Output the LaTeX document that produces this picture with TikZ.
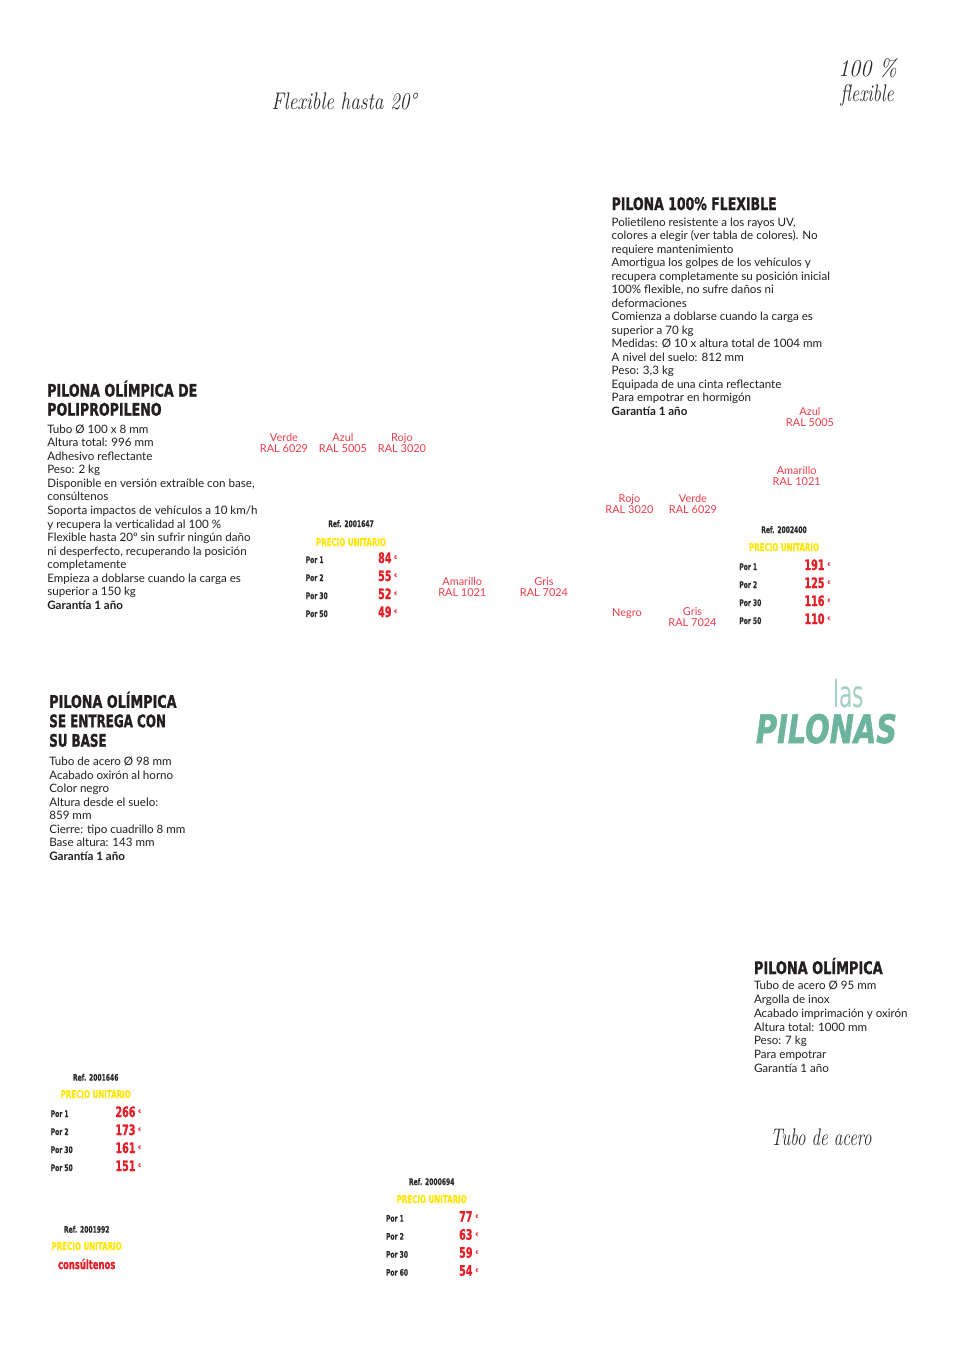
\documentclass[tikz,border=0pt]{standalone}
\usepackage{fontspec}
\usepackage{graphicx}
\newfontfamily\bodyfont{Lato}
\newfontfamily\condfont[FakeBold=1.3]{DejaVu Sans Condensed Bold}
\newfontfamily\cnd[FakeStretch=0.74,FakeBold=0.6]{DejaVu Sans Condensed Bold}
\newfontfamily\cndB[FakeStretch=0.74,FakeBold=1.2]{DejaVu Sans Condensed Bold}
\newfontfamily\eurfont{DejaVu Sans Condensed Bold}
\newfontfamily\condlight{DejaVu Sans Condensed}
\newfontfamily\condobl[FakeBold=1.5]{DejaVu Sans Condensed Bold Oblique}
\newdimen\pxu \pxu=0.75pt
\newcommand\hw[2]{\resizebox{#1\pxu}{\height}{#2}}
\newcommand\eur{\kern3\pxu\raisebox{3.5\pxu}{\eurfont\fontsize{3.6}{4}\selectfont €}}
\definecolor{bodyc}{HTML}{231F20}
\definecolor{labred}{HTML}{EE3E4A}
\definecolor{pricered}{HTML}{E41E26}
\definecolor{yel}{HTML}{FFE600}
\definecolor{refc}{HTML}{2B2B2B}
\definecolor{tealA}{HTML}{6CB49E}
\definecolor{tealB}{HTML}{A4D0C1}
\definecolor{handc}{HTML}{2A2A2A}
\tikzset{
  every node/.style={inner sep=0pt, outer sep=0pt},
  head/.style={anchor=base west, align=left, text=bodyc, font=\condfont\fontsize{13}{14.3}\selectfont},
  body/.style={anchor=base west, align=left, text=bodyc, font=\bodyfont\fontsize{8.7}{10.16}\selectfont},
  lab/.style={anchor=base, align=center, text=labred, font=\bodyfont\fontsize{8.2}{8.1}\selectfont},
  refs/.style={anchor=base, text=refc, font=\cnd\fontsize{6.8}{7}\selectfont},
  precio/.style={anchor=base, text=yel, font=\cnd\fontsize{8}{8}\selectfont},
  por/.style={anchor=base west, text=refc, font=\cnd\fontsize{6.8}{7}\selectfont},
  price/.style={anchor=base east, text=pricered, font=\cndB\fontsize{10.8}{11}\selectfont},
  hand/.style={anchor=base west, text=handc, font=\rmfamily\itshape\fontsize{18}{18}\selectfont},
}
\begin{document}
\begin{tikzpicture}[x=0.75pt,y=-0.75pt]
\useasboundingbox (0,0) rectangle (957,1350);
\fill[white] (0,0) rectangle (957,1350);

% handwritten captions
\node[hand] (hflex) at (271.7,109.3) {\hw{145}{Flexible hasta 20°}};
\node[hand] (h100) at (838,76.7) {\hw{59}{100 \%}};
\node[hand] (hflexible) at (840.7,101) {\hw{53}{flexible}};
\node[hand] (htubo) at (770.7,1145) {\hw{101}{Tubo de acero}};

% block B : pilona 100% flexible (multi-line nodes are anchored at their last baseline)
\node[head] (hB) at (611.7,210) {\hw{165}{PILONA 100\% FLEXIBLE}};
\node[body, font=\bodyfont\fontsize{8.7}{10.125}\selectfont] (bB) at (611.7,415) {Polietileno resistente a los rayos UV,\\
colores a elegir (ver tabla de colores). No\\
requiere mantenimiento\\
Amortigua los golpes de los vehículos y\\
recupera completamente su posición inicial\\
100\% flexible, no sufre daños ni\\
deformaciones\\
Comienza a doblarse cuando la carga es\\
superior a 70 kg\\
Medidas: Ø 10 x altura total de 1004 mm\\
A nivel del suelo: 812 mm\\
Peso: 3,3 kg\\
Equipada de una cinta reflectante\\
Para empotrar en hormigón\\
\textbf{Garantía 1 año}};

% block A : pilona olimpica de polipropileno
\node[head] (hA) at (47.3,415.7) {\hw{150}{PILONA OLÍMPICA DE}\\\hw{114.3}{POLIPROPILENO}};
\node[body] (bA) at (47.3,609.3) {Tubo Ø 100 x 8 mm\\
Altura total: 996 mm\\
Adhesivo reflectante\\
Peso: 2 kg\\
Disponible en versión extraíble con base,\\
consúltenos\\
Soporta impactos de vehículos a 10 km/h\\
y recupera la verticalidad al 100 \%\\
Flexible hasta 20º sin sufrir ningún daño\\
ni desperfecto, recuperando la posición\\
completamente\\
Empieza a doblarse cuando la carga es\\
superior a 150 kg\\
\textbf{Garantía 1 año}};

% colour labels (polipropileno)
\node[lab] (cA1) at (284,452.7) {Verde\\RAL 6029};
\node[lab] (cA2) at (343,452.7) {Azul\\RAL 5005};
\node[lab] (cA3) at (402,452.7) {Rojo\\RAL 3020};
\node[lab] (cA4) at (462.3,596) {Amarillo\\RAL 1021};
\node[lab] (cA5) at (544,596) {Gris\\RAL 7024};

% colour labels (flexible)
\node[lab] (cB1) at (810,426) {Azul\\RAL 5005};
\node[lab] (cB2) at (796.7,485.7) {Amarillo\\RAL 1021};
\node[lab] (cB3) at (629.5,513.3) {Rojo\\RAL 3020};
\node[lab] (cB4) at (693,513.3) {Verde\\RAL 6029};
\node[lab] (cB5) at (627,616) {Negro};
\node[lab] (cB6) at (692.5,626.7) {Gris\\RAL 7024};

% price table 1
\node[refs] (t1ref) at (351,527) {Ref. 2001647};
\node[precio] (t1pu) at (351,546) {PRECIO UNITARIO};
\foreach \l/\p [count=\i] in {1/84,2/55,30/52,50/49}{
  \node[por] (t1por\i) at (305.7,{563+18*(\i-1)}) {Por \l};
  \node[price] (t1pr\i) at (397.5,{563+18*(\i-1)}) {\p\eur};
}

% price table 2
\node[refs] (t2ref) at (784,533) {Ref. 2002400};
\node[precio] (t2pu) at (784,551) {PRECIO UNITARIO};
\foreach \l/\p [count=\i] in {1/191,2/125,30/116,50/110}{
  \node[por] (t2por\i) at (739.3,{570+18*(\i-1)}) {Por \l};
  \node[price] (t2pr\i) at (830.5,{570+18*(\i-1)}) {\p\eur};
}

% las pilonas
\node[anchor=base west, text=tealB, font=\condlight\fontsize{28}{28}\selectfont] (las) at (833,707) {\hw{31}{las}};
\node[anchor=base west, text=tealA, font=\condobl\fontsize{29.5}{30}\selectfont] (pilonas) at (756,743) {\hw{141}{PILONAS}};

% block C : pilona olimpica se entrega con su base
\node[head, font=\condfont\fontsize{13}{14.6}\selectfont] (hC) at (49.3,746.7) {\hw{127.3}{PILONA OLÍMPICA}\\\hw{116.7}{SE ENTREGA CON}\\\hw{57.3}{SU BASE}};
\node[body, font=\bodyfont\fontsize{8.7}{10.125}\selectfont] (bC) at (49.3,860) {Tubo de acero Ø 98 mm\\
Acabado oxirón al horno\\
Color negro\\
Altura desde el suelo:\\
859 mm\\
Cierre: tipo cuadrillo 8 mm\\
Base altura: 143 mm\\
\textbf{Garantía 1 año}};

% block D : pilona olimpica
\node[head] (hD) at (754,974) {\hw{128.7}{PILONA OLÍMPICA}};
\node[body, font=\bodyfont\fontsize{8.7}{10.4}\selectfont] (bD) at (754,1072.7) {Tubo de acero Ø 95 mm\\
Argolla de inox\\
Acabado imprimación y oxirón\\
Altura total: 1000 mm\\
Peso: 7 kg\\
Para empotrar\\
Garantía 1 año};

% price table 3
\node[refs] (t3ref) at (95.7,1080.7) {Ref. 2001646};
\node[precio] (t3pu) at (95.7,1098) {PRECIO UNITARIO};
\foreach \l/\p [count=\i] in {1/266,2/173,30/161,50/151}{
  \node[por] (t3por\i) at (50.7,{1117+18*(\i-1)}) {Por \l};
  \node[price] (t3pr\i) at (141.5,{1117+18*(\i-1)}) {\p\eur};
}

% price table 4
\node[refs] (t4ref) at (431.7,1185) {Ref. 2000694};
\node[precio] (t4pu) at (431.7,1203) {PRECIO UNITARIO};
\foreach \l/\p [count=\i] in {1/77,2/63,30/59,60/54}{
  \node[por] (t4por\i) at (386,{1221.7+18*(\i-1)}) {Por \l};
  \node[price] (t4pr\i) at (478.5,{1221.7+18*(\i-1)}) {\p\eur};
}

% price table 5
\node[refs] (t5ref) at (86.7,1232.7) {Ref. 2001992};
\node[precio] (t5pu) at (86.7,1250) {PRECIO UNITARIO};
\node[anchor=base, text=pricered, font=\cndB\fontsize{9.5}{10}\selectfont] (t5c) at (86.7,1269) {consúltenos};
\end{tikzpicture}
\end{document}
